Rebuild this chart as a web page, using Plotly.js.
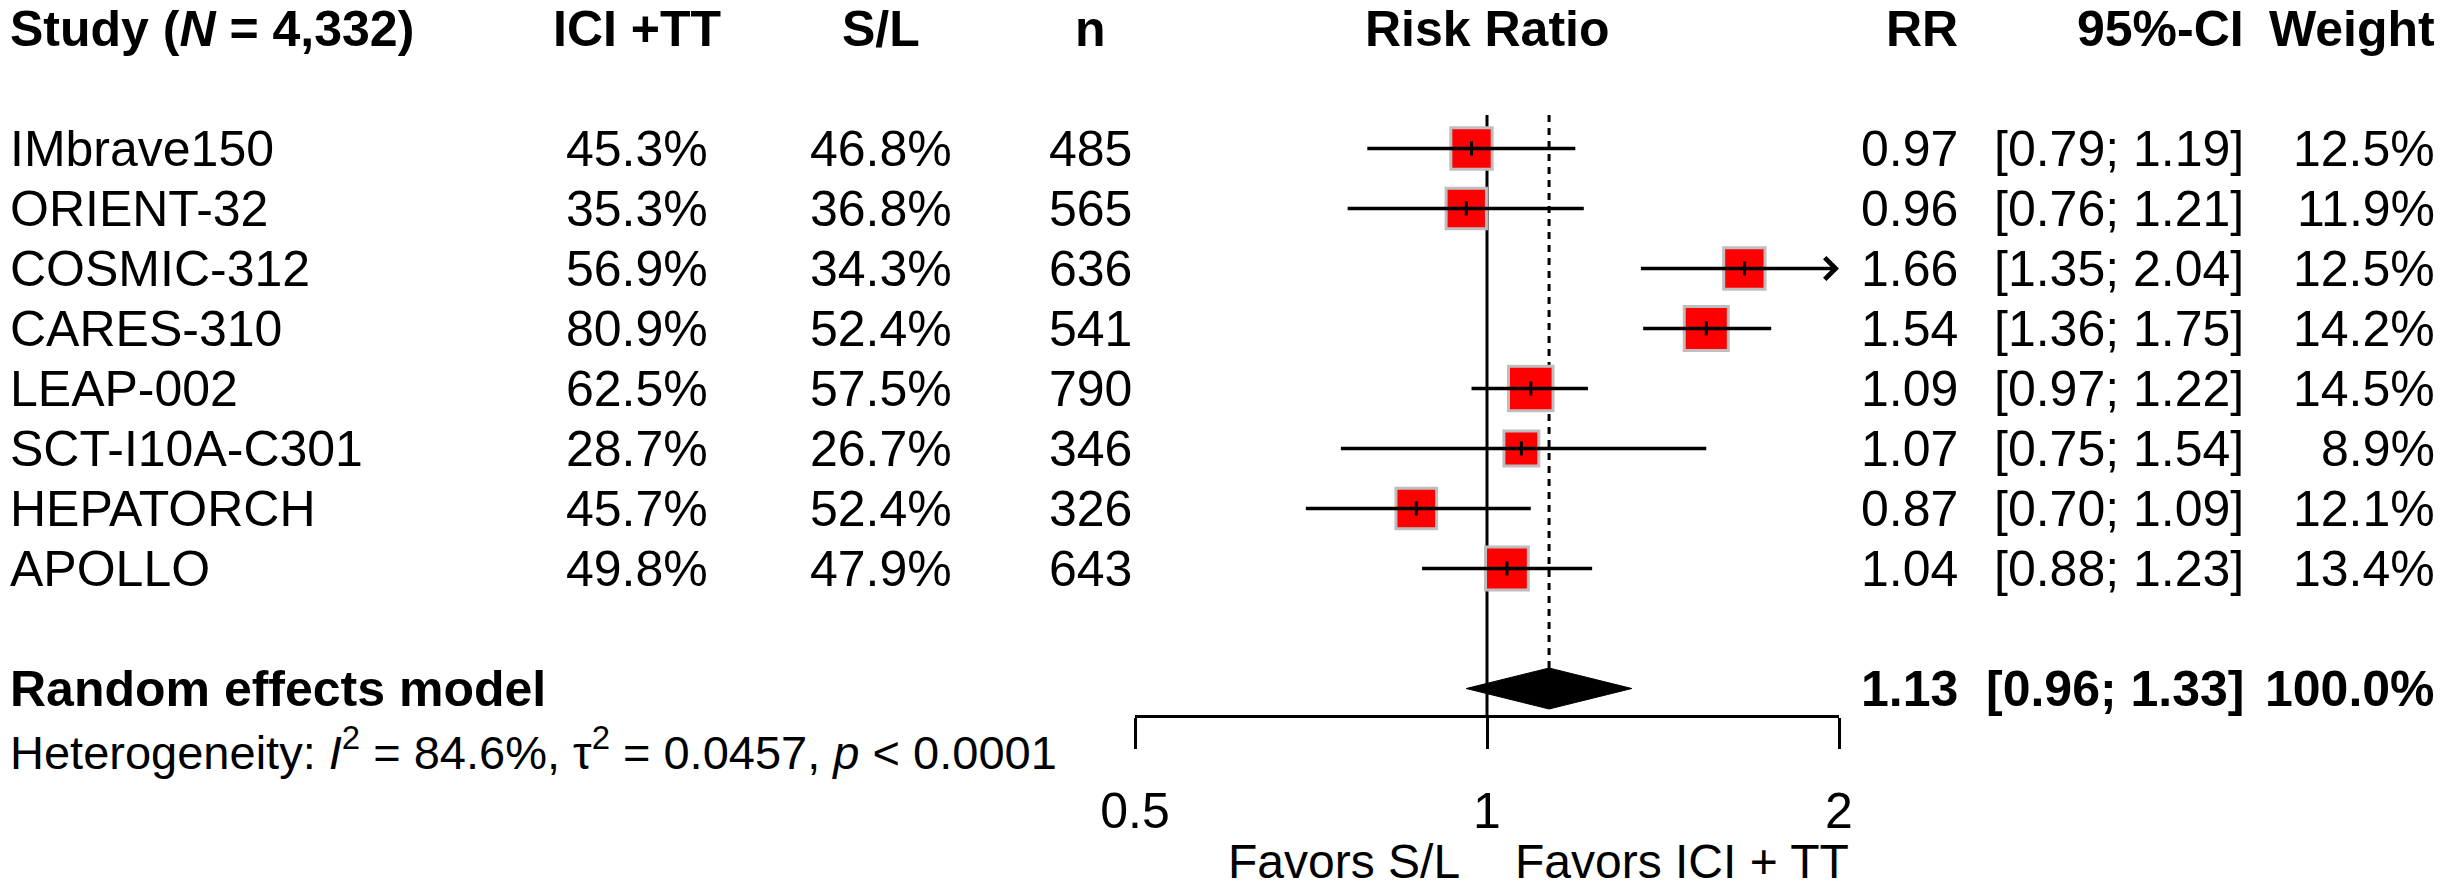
<!DOCTYPE html>
<html><head><meta charset="utf-8">
<script src="https://cdn.plot.ly/plotly-3.0.1.min.js"></script>
<style>html,body{margin:0;padding:0;background:#fff;} #chart{width:2442px;height:890px;}</style>
</head><body><div id="chart"></div>
<script>
// ---- data ----
const studies = ['IMbrave150', 'ORIENT-32', 'COSMIC-312', 'CARES-310', 'LEAP-002', 'SCT-I10A-C301', 'HEPATORCH', 'APOLLO'];
const eventsICI = [45.3, 35.3, 56.9, 80.9, 62.5, 28.7, 45.7, 49.8];
const eventsSL = [46.8, 36.8, 34.3, 52.4, 57.5, 26.7, 52.4, 47.9];
const sampleN = [485, 565, 636, 541, 790, 346, 326, 643];
const rr = [0.97, 0.96, 1.66, 1.54, 1.09, 1.07, 0.87, 1.04];
const ciLow = [0.79, 0.76, 1.35, 1.36, 0.97, 0.75, 0.70, 0.88];
const ciHigh = [1.19, 1.21, 2.04, 1.75, 1.22, 1.54, 1.09, 1.23];
const weights = [12.5, 11.9, 12.5, 14.2, 14.5, 8.9, 12.1, 13.4];
const pooledRR = 1.13, pooledLow = 0.96, pooledHigh = 1.33, pooledWeight = 100.0;
const totalN = '4,332';
const hetI2 = '84.6%', hetTau2 = '0.0457', hetP = '0.0001';
const tickVals = [0.5, 1, 2];
const tickText = ['0.5', '1', '2'];
const xMin = 0.5, xMax = 2;

// ---- layout constants ----
const W = 2442, H = 890;
const ROW0 = 28.5, ROWH = 60;
const FONT = 'Liberation Sans, Arial, Helvetica, sans-serif';
const FS = 50;
const studyRow0 = 2;
const pooledRow = studyRow0 + studies.length + 1;
const hetRow = pooledRow + 1;
const axisPx = 716;
const axisRow = (axisPx - ROW0) / ROWH;
const topLineRow = (115 - ROW0) / ROWH;
const diamondHalf = 20.5 / ROWH;
const favRow = 13.88;
const colX = {study: 8, ici: 637, sl: 881, n: 1090, rr: 1960, ci: 2246, w: 2437};

const rows = studies.map((s, i) => studyRow0 + i);
const fmtPct = v => v.toFixed(1) + '%';
const fmtCI = (a, b) => '[' + a.toFixed(2) + '; ' + b.toFixed(2) + ']';

const traces = [];
// reference line at RR = 1
traces.push({x: [1, 1], y: [topLineRow, axisRow], mode: 'lines', line: {color: 'black', width: 3}, hoverinfo: 'skip', cliponaxis: false});
// dotted line at pooled estimate
traces.push({x: [pooledRR, pooledRR], y: [topLineRow, pooledRow - diamondHalf], mode: 'lines', line: {color: 'black', width: 3, dash: '7px,6px'}, hoverinfo: 'skip', cliponaxis: false});
// weight boxes
traces.push({x: rr, y: rows, mode: 'markers', marker: {symbol: 'square', size: weights.map(w => 11.7 * Math.sqrt(w)), color: '#ff0000', opacity: 1, line: {color: '#bebebe', width: 3}}, opacity: 1, hoverinfo: 'skip', cliponaxis: false});
// CI lines (within range)
const cx = [], cy = [];
studies.forEach((s, i) => {
  if (ciHigh[i] <= xMax && ciLow[i] >= xMin) { cx.push(ciLow[i], ciHigh[i], null); cy.push(rows[i], rows[i], null); }
});
traces.push({x: cx, y: cy, mode: 'lines', line: {color: 'black', width: 3.5}, hoverinfo: 'skip', cliponaxis: false});
// point estimate ticks
traces.push({x: rr, y: rows, mode: 'markers', marker: {symbol: 'line-ns', size: 10, color: 'black', opacity: 1, line: {color: 'black', width: 3}}, hoverinfo: 'skip', cliponaxis: false});
// diamond
traces.push({x: [pooledLow, pooledRR, pooledHigh, pooledRR, pooledLow], y: [pooledRow, pooledRow - diamondHalf, pooledRow, pooledRow + diamondHalf, pooledRow], mode: 'lines', fill: 'toself', fillcolor: 'black', line: {color: 'black', width: 1}, hoverinfo: 'skip', cliponaxis: false});

const ann = [];
function txt(text, px, row, anchor, size, extra) {
  ann.push(Object.assign({xref: 'paper', x: px / W, yref: 'y', y: row, text: text, showarrow: false, xanchor: anchor, yanchor: 'middle', font: {family: FONT, size: size || FS, color: 'black'}}, extra || {}));
}
// header
txt('<b>Study (<i>N</i> = ' + totalN + ')</b>', colX.study, 0, 'left');
txt('<b>ICI +TT</b>', colX.ici, 0, 'center');
txt('<b>S/L</b>', colX.sl, 0, 'center');
txt('<b>n</b>', colX.n, 0, 'center');
ann.push({xref: 'x', x: 0, yref: 'y', y: 0, text: '<b>Risk Ratio</b>', showarrow: false, xanchor: 'center', yanchor: 'middle', font: {family: FONT, size: FS, color: 'black'}});
txt('<b>RR</b>', colX.rr, 0, 'right');
txt('<b>95%-CI</b>', colX.ci, 0, 'right');
txt('<b>Weight</b>', colX.w, 0, 'right');
// study rows
studies.forEach((s, i) => {
  const r = rows[i];
  txt(s, colX.study, r, 'left');
  txt(fmtPct(eventsICI[i]), colX.ici, r, 'center');
  txt(fmtPct(eventsSL[i]), colX.sl, r, 'center');
  txt(String(sampleN[i]), colX.n, r, 'center');
  txt(rr[i].toFixed(2), colX.rr, r, 'right');
  txt(fmtCI(ciLow[i], ciHigh[i]), colX.ci, r, 'right');
  txt(fmtPct(weights[i]), colX.w, r, 'right');
  if (ciHigh[i] > xMax) {
    ann.push({xref: 'x', x: Math.log10(xMax), yref: 'y', y: r, axref: 'x', ax: Math.log10(ciLow[i]), ayref: 'y', ay: r,
      text: ' ', font: {size: 1}, showarrow: true, arrowhead: 4, arrowsize: 1.2, arrowwidth: 3.5, arrowcolor: 'black', standoff: 0, startstandoff: 0});
  }
});
// pooled row
txt('<b>Random effects model</b>', colX.study, pooledRow, 'left');
txt('<b>' + pooledRR.toFixed(2) + '</b>', colX.rr, pooledRow, 'right');
txt('<b>' + fmtCI(pooledLow, pooledHigh) + '</b>', colX.ci, pooledRow, 'right');
txt('<b>' + pooledWeight.toFixed(1) + '%</b>', colX.w, pooledRow, 'right');
// heterogeneity
txt('Heterogeneity: <i>I</i><sup>2</sup> = ' + hetI2 + ', τ<sup>2</sup> = ' + hetTau2 + ', <i>p</i> &lt; ' + hetP, colX.study, hetRow, 'left', 47);
// favours labels
ann.push({xref: 'x', x: 0, xshift: -25, yref: 'y', y: favRow, text: 'Favors S/L', showarrow: false, xanchor: 'right', yanchor: 'middle', font: {family: FONT, size: 48, color: 'black'}});
ann.push({xref: 'x', x: 0, xshift: 26, yref: 'y', y: favRow, text: 'Favors ICI + TT', showarrow: false, xanchor: 'left', yanchor: 'middle', font: {family: FONT, size: 48, color: 'black'}});

const layout = {
  width: W, height: H,
  margin: {l: 0, r: 0, t: 0, b: 0, pad: 0},
  paper_bgcolor: 'white', plot_bgcolor: 'white',
  showlegend: false,
  font: {family: FONT, size: FS, color: 'black'},
  xaxis: {
    type: 'log', range: [Math.log10(xMin), Math.log10(xMax)],
    domain: [1135 / W, 1839 / W],
    anchor: 'free', position: 1 - axisPx / H, side: 'bottom',
    showline: true, linewidth: 3, linecolor: 'black',
    ticks: 'outside', ticklen: 31, tickwidth: 3, tickcolor: 'black',
    tickmode: 'array', tickvals: tickVals, ticktext: tickText,
    tickfont: {family: FONT, size: FS, color: 'black'},
    ticklabelstandoff: 19,
    showgrid: false, zeroline: false, fixedrange: true
  },
  yaxis: {
    range: [(H - ROW0) / ROWH, -ROW0 / ROWH], domain: [0, 1],
    showticklabels: false, showgrid: false, zeroline: false, showline: false, ticks: '', fixedrange: true
  },
  annotations: ann
};
Plotly.newPlot('chart', traces, layout, {staticPlot: true, displayModeBar: false});
</script></body></html>
